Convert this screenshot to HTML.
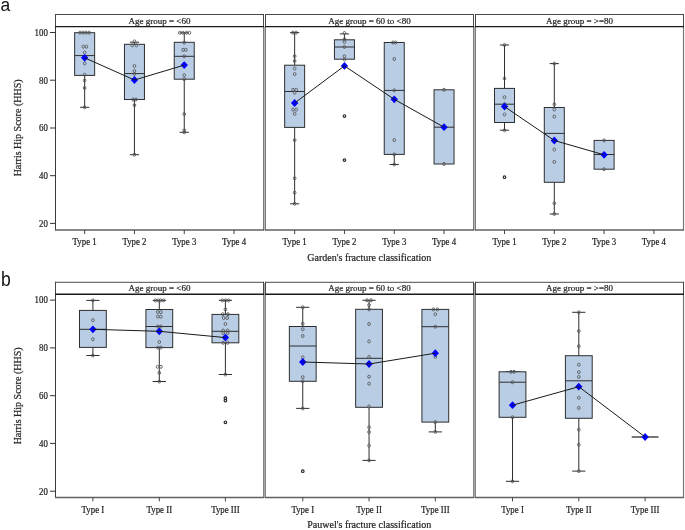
<!DOCTYPE html>
<html><head><meta charset="utf-8"><style>
html,body{margin:0;padding:0;background:#fff;width:685px;height:530px;overflow:hidden}
svg{display:block;will-change:transform}
text{font-family:"Liberation Serif",serif;stroke:#2a2a2a;stroke-width:0.22px}
</style></head><body>
<svg width="685" height="530" viewBox="0 0 685 530">
<rect width="685" height="530" fill="#fff"/>
<line x1="55" y1="14.5" x2="264" y2="14.5" stroke="#4a4a4a" stroke-width="1"/>
<line x1="55.5" y1="14" x2="55.5" y2="26.6" stroke="#484848" stroke-width="1"/>
<line x1="263.5" y1="14" x2="263.5" y2="26.6" stroke="#484848" stroke-width="1"/>
<line x1="55.5" y1="26.6" x2="55.5" y2="230.6" stroke="#3a3a3a" stroke-width="1"/>
<line x1="263.5" y1="26.6" x2="263.5" y2="230.6" stroke="#7a7a7a" stroke-width="1"/>
<line x1="264.5" y1="26.6" x2="264.5" y2="230.6" stroke="#b8b8b8" stroke-width="1"/>
<line x1="55" y1="230.0" x2="264" y2="230.0" stroke="#606060" stroke-width="1.5"/>
<line x1="55" y1="26.6" x2="264" y2="26.6" stroke="#1a1a1a" stroke-width="1.4"/>
<text x="159.5" y="23.6" text-anchor="middle" font-size="9" fill="#222">Age group = &lt;60</text>
<line x1="265" y1="14.5" x2="474" y2="14.5" stroke="#4a4a4a" stroke-width="1"/>
<line x1="265.5" y1="14" x2="265.5" y2="26.6" stroke="#484848" stroke-width="1"/>
<line x1="473.5" y1="14" x2="473.5" y2="26.6" stroke="#484848" stroke-width="1"/>
<line x1="265.5" y1="26.6" x2="265.5" y2="230.6" stroke="#7a7a7a" stroke-width="1"/>
<line x1="473.5" y1="26.6" x2="473.5" y2="230.6" stroke="#7a7a7a" stroke-width="1"/>
<line x1="474.5" y1="26.6" x2="474.5" y2="230.6" stroke="#b8b8b8" stroke-width="1"/>
<line x1="265" y1="230.0" x2="474" y2="230.0" stroke="#606060" stroke-width="1.5"/>
<line x1="265" y1="26.6" x2="474" y2="26.6" stroke="#1a1a1a" stroke-width="1.4"/>
<text x="369.5" y="23.6" text-anchor="middle" font-size="9" fill="#222">Age group = 60 to &lt;80</text>
<line x1="475" y1="14.5" x2="684" y2="14.5" stroke="#4a4a4a" stroke-width="1"/>
<line x1="475.5" y1="14" x2="475.5" y2="26.6" stroke="#484848" stroke-width="1"/>
<line x1="683.5" y1="14" x2="683.5" y2="26.6" stroke="#484848" stroke-width="1"/>
<line x1="475.5" y1="26.6" x2="475.5" y2="230.6" stroke="#7a7a7a" stroke-width="1"/>
<line x1="683.5" y1="26.6" x2="683.5" y2="230.6" stroke="#787878" stroke-width="1.2"/>
<line x1="475" y1="230.0" x2="684" y2="230.0" stroke="#606060" stroke-width="1.5"/>
<line x1="475" y1="26.6" x2="684" y2="26.6" stroke="#1a1a1a" stroke-width="1.4"/>
<text x="579.5" y="23.6" text-anchor="middle" font-size="9" fill="#222">Age group = &gt;=80</text>
<line x1="50" y1="32.5" x2="55" y2="32.5" stroke="#333" stroke-width="1"/>
<text transform="translate(47.8,35.8) scale(0.93,1)" text-anchor="end" font-size="9.5" fill="#222">100</text>
<line x1="50" y1="80.2" x2="55" y2="80.2" stroke="#333" stroke-width="1"/>
<text transform="translate(47.8,83.5) scale(0.93,1)" text-anchor="end" font-size="9.5" fill="#222">80</text>
<line x1="50" y1="128" x2="55" y2="128" stroke="#333" stroke-width="1"/>
<text transform="translate(47.8,131.3) scale(0.93,1)" text-anchor="end" font-size="9.5" fill="#222">60</text>
<line x1="50" y1="175.7" x2="55" y2="175.7" stroke="#333" stroke-width="1"/>
<text transform="translate(47.8,179.0) scale(0.93,1)" text-anchor="end" font-size="9.5" fill="#222">40</text>
<line x1="50" y1="223.4" x2="55" y2="223.4" stroke="#333" stroke-width="1"/>
<text transform="translate(47.8,226.70000000000002) scale(0.93,1)" text-anchor="end" font-size="9.5" fill="#222">20</text>
<line x1="84.65" y1="230.0" x2="84.65" y2="234.0" stroke="#444" stroke-width="1"/>
<text transform="translate(84.65,245.0) scale(0.92,1)" text-anchor="middle" font-size="9.6" fill="#222">Type 1</text>
<line x1="134.45" y1="230.0" x2="134.45" y2="234.0" stroke="#444" stroke-width="1"/>
<text transform="translate(134.45,245.0) scale(0.92,1)" text-anchor="middle" font-size="9.6" fill="#222">Type 2</text>
<line x1="184.25" y1="230.0" x2="184.25" y2="234.0" stroke="#444" stroke-width="1"/>
<text transform="translate(184.25,245.0) scale(0.92,1)" text-anchor="middle" font-size="9.6" fill="#222">Type 3</text>
<line x1="234.04999999999998" y1="230.0" x2="234.04999999999998" y2="234.0" stroke="#444" stroke-width="1"/>
<text transform="translate(234.04999999999998,245.0) scale(0.92,1)" text-anchor="middle" font-size="9.6" fill="#222">Type 4</text>
<line x1="294.65" y1="230.0" x2="294.65" y2="234.0" stroke="#444" stroke-width="1"/>
<text transform="translate(294.65,245.0) scale(0.92,1)" text-anchor="middle" font-size="9.6" fill="#222">Type 1</text>
<line x1="344.45" y1="230.0" x2="344.45" y2="234.0" stroke="#444" stroke-width="1"/>
<text transform="translate(344.45,245.0) scale(0.92,1)" text-anchor="middle" font-size="9.6" fill="#222">Type 2</text>
<line x1="394.25" y1="230.0" x2="394.25" y2="234.0" stroke="#444" stroke-width="1"/>
<text transform="translate(394.25,245.0) scale(0.92,1)" text-anchor="middle" font-size="9.6" fill="#222">Type 3</text>
<line x1="444.04999999999995" y1="230.0" x2="444.04999999999995" y2="234.0" stroke="#444" stroke-width="1"/>
<text transform="translate(444.04999999999995,245.0) scale(0.92,1)" text-anchor="middle" font-size="9.6" fill="#222">Type 4</text>
<line x1="504.5" y1="230.0" x2="504.5" y2="234.0" stroke="#444" stroke-width="1"/>
<text transform="translate(504.5,245.0) scale(0.92,1)" text-anchor="middle" font-size="9.6" fill="#222">Type 1</text>
<line x1="554.3" y1="230.0" x2="554.3" y2="234.0" stroke="#444" stroke-width="1"/>
<text transform="translate(554.3,245.0) scale(0.92,1)" text-anchor="middle" font-size="9.6" fill="#222">Type 2</text>
<line x1="604.1" y1="230.0" x2="604.1" y2="234.0" stroke="#444" stroke-width="1"/>
<text transform="translate(604.1,245.0) scale(0.92,1)" text-anchor="middle" font-size="9.6" fill="#222">Type 3</text>
<line x1="653.9" y1="230.0" x2="653.9" y2="234.0" stroke="#444" stroke-width="1"/>
<text transform="translate(653.9,245.0) scale(0.92,1)" text-anchor="middle" font-size="9.6" fill="#222">Type 4</text>
<line x1="84.65" y1="75.4" x2="84.65" y2="107.3" stroke="#2e2e2e" stroke-width="1"/>
<line x1="80.05000000000001" y1="107.3" x2="89.25" y2="107.3" stroke="#2e2e2e" stroke-width="1"/>
<rect x="74.65" y="32.7" width="20.0" height="42.7" fill="#b9cde5" stroke="#2e2e2e" stroke-width="1"/>
<line x1="74.65" y1="55.6" x2="94.65" y2="55.6" stroke="#2e2e2e" stroke-width="1"/>
<ellipse cx="80" cy="32.6" rx="1.35" ry="1.55" fill="none" stroke="#555555" stroke-width="0.85"/>
<ellipse cx="83" cy="32.6" rx="1.35" ry="1.55" fill="none" stroke="#555555" stroke-width="0.85"/>
<ellipse cx="86" cy="32.6" rx="1.35" ry="1.55" fill="none" stroke="#555555" stroke-width="0.85"/>
<ellipse cx="89.1" cy="32.6" rx="1.35" ry="1.55" fill="none" stroke="#555555" stroke-width="0.85"/>
<ellipse cx="83.3" cy="46.7" rx="1.35" ry="1.55" fill="none" stroke="#555555" stroke-width="0.85"/>
<ellipse cx="86.4" cy="46.7" rx="1.35" ry="1.55" fill="none" stroke="#555555" stroke-width="0.85"/>
<ellipse cx="84.65" cy="52.6" rx="1.35" ry="1.55" fill="none" stroke="#555555" stroke-width="0.85"/>
<ellipse cx="84.65" cy="63.5" rx="1.35" ry="1.55" fill="none" stroke="#555555" stroke-width="0.85"/>
<ellipse cx="84.65" cy="74.8" rx="1.35" ry="1.55" fill="none" stroke="#555555" stroke-width="0.85"/>
<ellipse cx="84.65" cy="80.5" rx="1.35" ry="1.55" fill="none" stroke="#555555" stroke-width="0.85"/>
<ellipse cx="84.65" cy="88" rx="1.35" ry="1.55" fill="none" stroke="#555555" stroke-width="0.85"/>
<ellipse cx="84.65" cy="107.3" rx="1.35" ry="1.55" fill="none" stroke="#555555" stroke-width="0.85"/>
<line x1="134.45" y1="42.2" x2="134.45" y2="44.3" stroke="#2e2e2e" stroke-width="1"/>
<line x1="129.85" y1="42.2" x2="139.04999999999998" y2="42.2" stroke="#2e2e2e" stroke-width="1"/>
<line x1="134.45" y1="99.5" x2="134.45" y2="154.7" stroke="#2e2e2e" stroke-width="1"/>
<line x1="129.85" y1="154.7" x2="139.04999999999998" y2="154.7" stroke="#2e2e2e" stroke-width="1"/>
<rect x="124.44999999999999" y="44.3" width="20.0" height="55.2" fill="#b9cde5" stroke="#2e2e2e" stroke-width="1"/>
<line x1="124.44999999999999" y1="73.6" x2="144.45" y2="73.6" stroke="#2e2e2e" stroke-width="1"/>
<ellipse cx="134.45" cy="41.4" rx="1.35" ry="1.55" fill="none" stroke="#555555" stroke-width="0.85"/>
<ellipse cx="132.3" cy="45.3" rx="1.35" ry="1.55" fill="none" stroke="#555555" stroke-width="0.85"/>
<ellipse cx="136.5" cy="45.3" rx="1.35" ry="1.55" fill="none" stroke="#555555" stroke-width="0.85"/>
<ellipse cx="134.45" cy="66" rx="1.35" ry="1.55" fill="none" stroke="#555555" stroke-width="0.85"/>
<ellipse cx="134.45" cy="71" rx="1.35" ry="1.55" fill="none" stroke="#555555" stroke-width="0.85"/>
<ellipse cx="134.45" cy="74" rx="1.35" ry="1.55" fill="none" stroke="#555555" stroke-width="0.85"/>
<ellipse cx="133" cy="99.5" rx="1.35" ry="1.55" fill="none" stroke="#555555" stroke-width="0.85"/>
<ellipse cx="136" cy="99.5" rx="1.35" ry="1.55" fill="none" stroke="#555555" stroke-width="0.85"/>
<ellipse cx="134.45" cy="105.2" rx="1.35" ry="1.55" fill="none" stroke="#555555" stroke-width="0.85"/>
<ellipse cx="134.45" cy="154.7" rx="1.35" ry="1.55" fill="none" stroke="#555555" stroke-width="0.85"/>
<line x1="184.25" y1="32.8" x2="184.25" y2="42.3" stroke="#2e2e2e" stroke-width="1"/>
<line x1="179.65" y1="32.8" x2="188.85" y2="32.8" stroke="#2e2e2e" stroke-width="1"/>
<line x1="184.25" y1="79.2" x2="184.25" y2="132.3" stroke="#2e2e2e" stroke-width="1"/>
<line x1="179.65" y1="132.3" x2="188.85" y2="132.3" stroke="#2e2e2e" stroke-width="1"/>
<rect x="174.25" y="42.3" width="20.0" height="36.900000000000006" fill="#b9cde5" stroke="#2e2e2e" stroke-width="1"/>
<line x1="174.25" y1="56.3" x2="194.25" y2="56.3" stroke="#2e2e2e" stroke-width="1"/>
<ellipse cx="179.8" cy="32.8" rx="1.35" ry="1.55" fill="none" stroke="#555555" stroke-width="0.85"/>
<ellipse cx="182.8" cy="32.8" rx="1.35" ry="1.55" fill="none" stroke="#555555" stroke-width="0.85"/>
<ellipse cx="186.4" cy="32.8" rx="1.35" ry="1.55" fill="none" stroke="#555555" stroke-width="0.85"/>
<ellipse cx="189.4" cy="32.8" rx="1.35" ry="1.55" fill="none" stroke="#555555" stroke-width="0.85"/>
<ellipse cx="184.25" cy="42.6" rx="1.35" ry="1.55" fill="none" stroke="#555555" stroke-width="0.85"/>
<ellipse cx="183.1" cy="49.9" rx="1.35" ry="1.55" fill="none" stroke="#555555" stroke-width="0.85"/>
<ellipse cx="185.8" cy="49.9" rx="1.35" ry="1.55" fill="none" stroke="#555555" stroke-width="0.85"/>
<ellipse cx="184.25" cy="56.3" rx="1.35" ry="1.55" fill="none" stroke="#555555" stroke-width="0.85"/>
<ellipse cx="184.25" cy="75.3" rx="1.35" ry="1.55" fill="none" stroke="#555555" stroke-width="0.85"/>
<ellipse cx="184.25" cy="79.2" rx="1.35" ry="1.55" fill="none" stroke="#555555" stroke-width="0.85"/>
<ellipse cx="184.25" cy="114" rx="1.35" ry="1.55" fill="none" stroke="#555555" stroke-width="0.85"/>
<ellipse cx="184.25" cy="130.4" rx="1.35" ry="1.55" fill="none" stroke="#555555" stroke-width="0.85"/>
<ellipse cx="184.25" cy="132.3" rx="1.35" ry="1.55" fill="none" stroke="#555555" stroke-width="0.85"/>
<path d="M84.65 53.89999999999999 L88.35000000000001 57.8 L84.65 61.7 L80.95 57.8 Z" fill="#0000ff"/>
<path d="M134.45 76.1 L138.14999999999998 80 L134.45 83.9 L130.75 80 Z" fill="#0000ff"/>
<path d="M184.25 61.19999999999999 L187.95 65.1 L184.25 69.0 L180.55 65.1 Z" fill="#0000ff"/>
<polyline points="84.65,57.8 134.45,80 184.25,65.1" fill="none" stroke="#1a1a1a" stroke-width="1"/>
<line x1="294.65" y1="32.6" x2="294.65" y2="65.2" stroke="#2e2e2e" stroke-width="1"/>
<line x1="290.04999999999995" y1="32.6" x2="299.25" y2="32.6" stroke="#2e2e2e" stroke-width="1"/>
<line x1="294.65" y1="127.4" x2="294.65" y2="203.8" stroke="#2e2e2e" stroke-width="1"/>
<line x1="290.04999999999995" y1="203.8" x2="299.25" y2="203.8" stroke="#2e2e2e" stroke-width="1"/>
<rect x="284.65" y="65.2" width="20.0" height="62.2" fill="#b9cde5" stroke="#2e2e2e" stroke-width="1"/>
<line x1="284.65" y1="91.5" x2="304.65" y2="91.5" stroke="#2e2e2e" stroke-width="1"/>
<ellipse cx="292.9" cy="32.6" rx="1.35" ry="1.55" fill="none" stroke="#555555" stroke-width="0.85"/>
<ellipse cx="296.1" cy="32.6" rx="1.35" ry="1.55" fill="none" stroke="#555555" stroke-width="0.85"/>
<ellipse cx="294.65" cy="56.2" rx="1.35" ry="1.55" fill="none" stroke="#555555" stroke-width="0.85"/>
<ellipse cx="294.65" cy="60.9" rx="1.35" ry="1.55" fill="none" stroke="#555555" stroke-width="0.85"/>
<ellipse cx="294.65" cy="68.5" rx="1.35" ry="1.55" fill="none" stroke="#555555" stroke-width="0.85"/>
<ellipse cx="294.65" cy="74.1" rx="1.35" ry="1.55" fill="none" stroke="#555555" stroke-width="0.85"/>
<ellipse cx="293" cy="89.8" rx="1.35" ry="1.55" fill="none" stroke="#555555" stroke-width="0.85"/>
<ellipse cx="296.2" cy="89.8" rx="1.35" ry="1.55" fill="none" stroke="#555555" stroke-width="0.85"/>
<ellipse cx="294.65" cy="92.7" rx="1.35" ry="1.55" fill="none" stroke="#555555" stroke-width="0.85"/>
<ellipse cx="293" cy="109.6" rx="1.35" ry="1.55" fill="none" stroke="#555555" stroke-width="0.85"/>
<ellipse cx="296.2" cy="109.6" rx="1.35" ry="1.55" fill="none" stroke="#555555" stroke-width="0.85"/>
<ellipse cx="294.65" cy="113.8" rx="1.35" ry="1.55" fill="none" stroke="#555555" stroke-width="0.85"/>
<ellipse cx="294.65" cy="140.2" rx="1.35" ry="1.55" fill="none" stroke="#555555" stroke-width="0.85"/>
<ellipse cx="294.65" cy="178.3" rx="1.35" ry="1.55" fill="none" stroke="#555555" stroke-width="0.85"/>
<ellipse cx="294.65" cy="192.6" rx="1.35" ry="1.55" fill="none" stroke="#555555" stroke-width="0.85"/>
<ellipse cx="294.65" cy="203.8" rx="1.35" ry="1.55" fill="none" stroke="#555555" stroke-width="0.85"/>
<line x1="344.45" y1="33.9" x2="344.45" y2="39.8" stroke="#2e2e2e" stroke-width="1"/>
<line x1="339.84999999999997" y1="33.9" x2="349.05" y2="33.9" stroke="#2e2e2e" stroke-width="1"/>
<rect x="334.45" y="39.8" width="20.0" height="19.400000000000006" fill="#b9cde5" stroke="#2e2e2e" stroke-width="1"/>
<line x1="334.45" y1="47" x2="354.45" y2="47" stroke="#2e2e2e" stroke-width="1"/>
<ellipse cx="344.45" cy="33.0" rx="1.35" ry="1.55" fill="none" stroke="#555555" stroke-width="0.85"/>
<ellipse cx="344.45" cy="39.2" rx="1.35" ry="1.55" fill="none" stroke="#555555" stroke-width="0.85"/>
<ellipse cx="344.45" cy="41.9" rx="1.35" ry="1.55" fill="none" stroke="#555555" stroke-width="0.85"/>
<ellipse cx="344.45" cy="47" rx="1.35" ry="1.55" fill="none" stroke="#555555" stroke-width="0.85"/>
<ellipse cx="344.45" cy="56.3" rx="1.35" ry="1.55" fill="none" stroke="#555555" stroke-width="0.85"/>
<ellipse cx="344.45" cy="59.4" rx="1.35" ry="1.55" fill="none" stroke="#555555" stroke-width="0.85"/>
<circle cx="344.45" cy="116.1" r="1.3" fill="none" stroke="#2a2a2a" stroke-width="1.15"/>
<circle cx="344.45" cy="160.1" r="1.3" fill="none" stroke="#2a2a2a" stroke-width="1.15"/>
<line x1="394.25" y1="154.4" x2="394.25" y2="164.5" stroke="#2e2e2e" stroke-width="1"/>
<line x1="389.65" y1="164.5" x2="398.85" y2="164.5" stroke="#2e2e2e" stroke-width="1"/>
<rect x="384.25" y="42.5" width="20.0" height="111.9" fill="#b9cde5" stroke="#2e2e2e" stroke-width="1"/>
<line x1="384.25" y1="90.4" x2="404.25" y2="90.4" stroke="#2e2e2e" stroke-width="1"/>
<ellipse cx="392.9" cy="42.5" rx="1.35" ry="1.55" fill="none" stroke="#555555" stroke-width="0.85"/>
<ellipse cx="395.6" cy="42.5" rx="1.35" ry="1.55" fill="none" stroke="#555555" stroke-width="0.85"/>
<ellipse cx="394.25" cy="59" rx="1.35" ry="1.55" fill="none" stroke="#555555" stroke-width="0.85"/>
<ellipse cx="394.25" cy="90.4" rx="1.35" ry="1.55" fill="none" stroke="#555555" stroke-width="0.85"/>
<ellipse cx="394.25" cy="140.1" rx="1.35" ry="1.55" fill="none" stroke="#555555" stroke-width="0.85"/>
<ellipse cx="394.25" cy="154.4" rx="1.35" ry="1.55" fill="none" stroke="#555555" stroke-width="0.85"/>
<ellipse cx="394.25" cy="164.5" rx="1.35" ry="1.55" fill="none" stroke="#555555" stroke-width="0.85"/>
<rect x="434.04999999999995" y="89.8" width="20.0" height="74.2" fill="#b9cde5" stroke="#2e2e2e" stroke-width="1"/>
<line x1="434.04999999999995" y1="127.2" x2="454.04999999999995" y2="127.2" stroke="#2e2e2e" stroke-width="1"/>
<ellipse cx="444.04999999999995" cy="89.8" rx="1.35" ry="1.55" fill="none" stroke="#555555" stroke-width="0.85"/>
<ellipse cx="444.04999999999995" cy="164" rx="1.35" ry="1.55" fill="none" stroke="#555555" stroke-width="0.85"/>
<path d="M294.65 99.1 L298.34999999999997 103 L294.65 106.9 L290.95 103 Z" fill="#0000ff"/>
<path d="M344.45 62.0 L348.15 65.9 L344.45 69.80000000000001 L340.75 65.9 Z" fill="#0000ff"/>
<path d="M394.25 95.39999999999999 L397.95 99.3 L394.25 103.2 L390.55 99.3 Z" fill="#0000ff"/>
<path d="M444.04999999999995 123.3 L447.74999999999994 127.2 L444.04999999999995 131.1 L440.34999999999997 127.2 Z" fill="#0000ff"/>
<polyline points="294.65,103 344.45,65.9 394.25,99.3 444.04999999999995,127.2" fill="none" stroke="#1a1a1a" stroke-width="1"/>
<line x1="504.5" y1="45" x2="504.5" y2="88.4" stroke="#2e2e2e" stroke-width="1"/>
<line x1="499.9" y1="45" x2="509.1" y2="45" stroke="#2e2e2e" stroke-width="1"/>
<line x1="504.5" y1="122.5" x2="504.5" y2="130.2" stroke="#2e2e2e" stroke-width="1"/>
<line x1="499.9" y1="130.2" x2="509.1" y2="130.2" stroke="#2e2e2e" stroke-width="1"/>
<rect x="494.5" y="88.4" width="20.0" height="34.099999999999994" fill="#b9cde5" stroke="#2e2e2e" stroke-width="1"/>
<line x1="494.5" y1="104.2" x2="514.5" y2="104.2" stroke="#2e2e2e" stroke-width="1"/>
<ellipse cx="504.5" cy="45" rx="1.35" ry="1.55" fill="none" stroke="#555555" stroke-width="0.85"/>
<ellipse cx="504.5" cy="78.5" rx="1.35" ry="1.55" fill="none" stroke="#555555" stroke-width="0.85"/>
<ellipse cx="504.5" cy="97.2" rx="1.35" ry="1.55" fill="none" stroke="#555555" stroke-width="0.85"/>
<ellipse cx="504.5" cy="104" rx="1.35" ry="1.55" fill="none" stroke="#555555" stroke-width="0.85"/>
<ellipse cx="504.5" cy="114.5" rx="1.35" ry="1.55" fill="none" stroke="#555555" stroke-width="0.85"/>
<ellipse cx="504.5" cy="130.2" rx="1.35" ry="1.55" fill="none" stroke="#555555" stroke-width="0.85"/>
<circle cx="504.5" cy="177.2" r="1.3" fill="none" stroke="#2a2a2a" stroke-width="1.15"/>
<line x1="554.3" y1="63.6" x2="554.3" y2="107.5" stroke="#2e2e2e" stroke-width="1"/>
<line x1="549.6999999999999" y1="63.6" x2="558.9" y2="63.6" stroke="#2e2e2e" stroke-width="1"/>
<line x1="554.3" y1="182.3" x2="554.3" y2="214" stroke="#2e2e2e" stroke-width="1"/>
<line x1="549.6999999999999" y1="214" x2="558.9" y2="214" stroke="#2e2e2e" stroke-width="1"/>
<rect x="544.3" y="107.5" width="20.0" height="74.80000000000001" fill="#b9cde5" stroke="#2e2e2e" stroke-width="1"/>
<line x1="544.3" y1="133.4" x2="564.3" y2="133.4" stroke="#2e2e2e" stroke-width="1"/>
<ellipse cx="554.3" cy="63.6" rx="1.35" ry="1.55" fill="none" stroke="#555555" stroke-width="0.85"/>
<ellipse cx="554.3" cy="104.4" rx="1.35" ry="1.55" fill="none" stroke="#555555" stroke-width="0.85"/>
<ellipse cx="554.3" cy="109.5" rx="1.35" ry="1.55" fill="none" stroke="#555555" stroke-width="0.85"/>
<ellipse cx="554.3" cy="116.6" rx="1.35" ry="1.55" fill="none" stroke="#555555" stroke-width="0.85"/>
<ellipse cx="554.3" cy="149.5" rx="1.35" ry="1.55" fill="none" stroke="#555555" stroke-width="0.85"/>
<ellipse cx="554.3" cy="161.9" rx="1.35" ry="1.55" fill="none" stroke="#555555" stroke-width="0.85"/>
<ellipse cx="554.3" cy="203.3" rx="1.35" ry="1.55" fill="none" stroke="#555555" stroke-width="0.85"/>
<ellipse cx="554.3" cy="214" rx="1.35" ry="1.55" fill="none" stroke="#555555" stroke-width="0.85"/>
<rect x="594.1" y="140.4" width="20.0" height="28.799999999999983" fill="#b9cde5" stroke="#2e2e2e" stroke-width="1"/>
<line x1="594.1" y1="154.5" x2="614.1" y2="154.5" stroke="#2e2e2e" stroke-width="1"/>
<ellipse cx="604.1" cy="140.4" rx="1.35" ry="1.55" fill="none" stroke="#555555" stroke-width="0.85"/>
<ellipse cx="604.1" cy="169.2" rx="1.35" ry="1.55" fill="none" stroke="#555555" stroke-width="0.85"/>
<path d="M504.5 102.69999999999999 L508.2 106.6 L504.5 110.5 L500.8 106.6 Z" fill="#0000ff"/>
<path d="M554.3 136.60000000000002 L558.0 140.5 L554.3 144.39999999999998 L550.5999999999999 140.5 Z" fill="#0000ff"/>
<path d="M604.1 150.90000000000003 L607.8000000000001 154.8 L604.1 158.7 L600.4 154.8 Z" fill="#0000ff"/>
<polyline points="504.5,106.6 554.3,140.5 604.1,154.8" fill="none" stroke="#1a1a1a" stroke-width="1"/>
<line x1="55" y1="282.3" x2="264" y2="282.3" stroke="#4a4a4a" stroke-width="1"/>
<line x1="55.5" y1="281.8" x2="55.5" y2="294.2" stroke="#484848" stroke-width="1"/>
<line x1="263.5" y1="281.8" x2="263.5" y2="294.2" stroke="#484848" stroke-width="1"/>
<line x1="55.5" y1="294.2" x2="55.5" y2="498.0" stroke="#3a3a3a" stroke-width="1"/>
<line x1="263.5" y1="294.2" x2="263.5" y2="498.0" stroke="#858585" stroke-width="1"/>
<line x1="264.5" y1="283" x2="264.5" y2="498.0" stroke="#a8a8a8" stroke-width="1"/>
<line x1="55" y1="497.4" x2="264" y2="497.4" stroke="#606060" stroke-width="1.5"/>
<line x1="55" y1="294.2" x2="264" y2="294.2" stroke="#1a1a1a" stroke-width="1.4"/>
<text x="159.5" y="291.40000000000003" text-anchor="middle" font-size="9" fill="#222">Age group = &lt;60</text>
<line x1="265" y1="282.3" x2="474" y2="282.3" stroke="#4a4a4a" stroke-width="1"/>
<line x1="265.5" y1="281.8" x2="265.5" y2="294.2" stroke="#484848" stroke-width="1"/>
<line x1="473.5" y1="281.8" x2="473.5" y2="294.2" stroke="#484848" stroke-width="1"/>
<line x1="265.5" y1="294.2" x2="265.5" y2="498.0" stroke="#858585" stroke-width="1"/>
<line x1="473.5" y1="294.2" x2="473.5" y2="498.0" stroke="#858585" stroke-width="1"/>
<line x1="474.5" y1="283" x2="474.5" y2="498.0" stroke="#a8a8a8" stroke-width="1"/>
<line x1="265" y1="497.4" x2="474" y2="497.4" stroke="#606060" stroke-width="1.5"/>
<line x1="265" y1="294.2" x2="474" y2="294.2" stroke="#1a1a1a" stroke-width="1.4"/>
<text x="369.5" y="291.40000000000003" text-anchor="middle" font-size="9" fill="#222">Age group = 60 to &lt;80</text>
<line x1="475" y1="282.3" x2="684" y2="282.3" stroke="#4a4a4a" stroke-width="1"/>
<line x1="475.5" y1="281.8" x2="475.5" y2="294.2" stroke="#484848" stroke-width="1"/>
<line x1="683.5" y1="281.8" x2="683.5" y2="294.2" stroke="#484848" stroke-width="1"/>
<line x1="475.5" y1="294.2" x2="475.5" y2="498.0" stroke="#858585" stroke-width="1"/>
<line x1="683.5" y1="294.2" x2="683.5" y2="498.0" stroke="#787878" stroke-width="1.2"/>
<line x1="475" y1="497.4" x2="684" y2="497.4" stroke="#606060" stroke-width="1.5"/>
<line x1="475" y1="294.2" x2="684" y2="294.2" stroke="#1a1a1a" stroke-width="1.4"/>
<text x="579.5" y="291.40000000000003" text-anchor="middle" font-size="9" fill="#222">Age group = &gt;=80</text>
<line x1="50" y1="300.1" x2="55" y2="300.1" stroke="#333" stroke-width="1"/>
<text transform="translate(47.8,303.40000000000003) scale(0.93,1)" text-anchor="end" font-size="9.5" fill="#222">100</text>
<line x1="50" y1="347.9" x2="55" y2="347.9" stroke="#333" stroke-width="1"/>
<text transform="translate(47.8,351.2) scale(0.93,1)" text-anchor="end" font-size="9.5" fill="#222">80</text>
<line x1="50" y1="395.7" x2="55" y2="395.7" stroke="#333" stroke-width="1"/>
<text transform="translate(47.8,399.0) scale(0.93,1)" text-anchor="end" font-size="9.5" fill="#222">60</text>
<line x1="50" y1="443.4" x2="55" y2="443.4" stroke="#333" stroke-width="1"/>
<text transform="translate(47.8,446.7) scale(0.93,1)" text-anchor="end" font-size="9.5" fill="#222">40</text>
<line x1="50" y1="491.2" x2="55" y2="491.2" stroke="#333" stroke-width="1"/>
<text transform="translate(47.8,494.5) scale(0.93,1)" text-anchor="end" font-size="9.5" fill="#222">20</text>
<line x1="92.9" y1="497.4" x2="92.9" y2="501.4" stroke="#444" stroke-width="1"/>
<text transform="translate(92.9,512.9) scale(0.92,1)" text-anchor="middle" font-size="9.6" fill="#222">Type I</text>
<line x1="159.3" y1="497.4" x2="159.3" y2="501.4" stroke="#444" stroke-width="1"/>
<text transform="translate(159.3,512.9) scale(0.92,1)" text-anchor="middle" font-size="9.6" fill="#222">Type II</text>
<line x1="225.4" y1="497.4" x2="225.4" y2="501.4" stroke="#444" stroke-width="1"/>
<text transform="translate(225.4,512.9) scale(0.92,1)" text-anchor="middle" font-size="9.6" fill="#222">Type III</text>
<line x1="302.75" y1="497.4" x2="302.75" y2="501.4" stroke="#444" stroke-width="1"/>
<text transform="translate(302.75,512.9) scale(0.92,1)" text-anchor="middle" font-size="9.6" fill="#222">Type I</text>
<line x1="369.05" y1="497.4" x2="369.05" y2="501.4" stroke="#444" stroke-width="1"/>
<text transform="translate(369.05,512.9) scale(0.92,1)" text-anchor="middle" font-size="9.6" fill="#222">Type II</text>
<line x1="435.3" y1="497.4" x2="435.3" y2="501.4" stroke="#444" stroke-width="1"/>
<text transform="translate(435.3,512.9) scale(0.92,1)" text-anchor="middle" font-size="9.6" fill="#222">Type III</text>
<line x1="512.5" y1="497.4" x2="512.5" y2="501.4" stroke="#444" stroke-width="1"/>
<text transform="translate(512.5,512.9) scale(0.92,1)" text-anchor="middle" font-size="9.6" fill="#222">Type I</text>
<line x1="578.8" y1="497.4" x2="578.8" y2="501.4" stroke="#444" stroke-width="1"/>
<text transform="translate(578.8,512.9) scale(0.92,1)" text-anchor="middle" font-size="9.6" fill="#222">Type II</text>
<line x1="645.1" y1="497.4" x2="645.1" y2="501.4" stroke="#444" stroke-width="1"/>
<text transform="translate(645.1,512.9) scale(0.92,1)" text-anchor="middle" font-size="9.6" fill="#222">Type III</text>
<line x1="92.9" y1="300.4" x2="92.9" y2="310.4" stroke="#2e2e2e" stroke-width="1"/>
<line x1="86.30000000000001" y1="300.4" x2="99.5" y2="300.4" stroke="#2e2e2e" stroke-width="1"/>
<line x1="92.9" y1="347.4" x2="92.9" y2="355.5" stroke="#2e2e2e" stroke-width="1"/>
<line x1="86.30000000000001" y1="355.5" x2="99.5" y2="355.5" stroke="#2e2e2e" stroke-width="1"/>
<rect x="79.5" y="310.4" width="26.8" height="37.0" fill="#b9cde5" stroke="#2e2e2e" stroke-width="1"/>
<line x1="79.5" y1="329.3" x2="106.30000000000001" y2="329.3" stroke="#2e2e2e" stroke-width="1"/>
<ellipse cx="92.9" cy="300.4" rx="1.35" ry="1.55" fill="none" stroke="#555555" stroke-width="0.85"/>
<ellipse cx="92.9" cy="320.2" rx="1.35" ry="1.55" fill="none" stroke="#555555" stroke-width="0.85"/>
<ellipse cx="92.9" cy="339.2" rx="1.35" ry="1.55" fill="none" stroke="#555555" stroke-width="0.85"/>
<ellipse cx="92.9" cy="355.5" rx="1.35" ry="1.55" fill="none" stroke="#555555" stroke-width="0.85"/>
<line x1="159.3" y1="300.4" x2="159.3" y2="309.5" stroke="#2e2e2e" stroke-width="1"/>
<line x1="152.70000000000002" y1="300.4" x2="165.9" y2="300.4" stroke="#2e2e2e" stroke-width="1"/>
<line x1="159.3" y1="347.6" x2="159.3" y2="381.5" stroke="#2e2e2e" stroke-width="1"/>
<line x1="152.70000000000002" y1="381.5" x2="165.9" y2="381.5" stroke="#2e2e2e" stroke-width="1"/>
<rect x="145.9" y="309.5" width="26.8" height="38.10000000000002" fill="#b9cde5" stroke="#2e2e2e" stroke-width="1"/>
<line x1="145.9" y1="326.5" x2="172.70000000000002" y2="326.5" stroke="#2e2e2e" stroke-width="1"/>
<ellipse cx="155.4" cy="300.4" rx="1.35" ry="1.55" fill="none" stroke="#555555" stroke-width="0.85"/>
<ellipse cx="158.3" cy="300.4" rx="1.35" ry="1.55" fill="none" stroke="#555555" stroke-width="0.85"/>
<ellipse cx="160.7" cy="300.4" rx="1.35" ry="1.55" fill="none" stroke="#555555" stroke-width="0.85"/>
<ellipse cx="163.6" cy="300.4" rx="1.35" ry="1.55" fill="none" stroke="#555555" stroke-width="0.85"/>
<ellipse cx="157.8" cy="312.1" rx="1.35" ry="1.55" fill="none" stroke="#555555" stroke-width="0.85"/>
<ellipse cx="160.8" cy="312.1" rx="1.35" ry="1.55" fill="none" stroke="#555555" stroke-width="0.85"/>
<ellipse cx="157.8" cy="316.6" rx="1.35" ry="1.55" fill="none" stroke="#555555" stroke-width="0.85"/>
<ellipse cx="160.8" cy="316.6" rx="1.35" ry="1.55" fill="none" stroke="#555555" stroke-width="0.85"/>
<ellipse cx="157.8" cy="326.5" rx="1.35" ry="1.55" fill="none" stroke="#555555" stroke-width="0.85"/>
<ellipse cx="160.8" cy="326.5" rx="1.35" ry="1.55" fill="none" stroke="#555555" stroke-width="0.85"/>
<ellipse cx="159.3" cy="342" rx="1.35" ry="1.55" fill="none" stroke="#555555" stroke-width="0.85"/>
<ellipse cx="157.8" cy="347.6" rx="1.35" ry="1.55" fill="none" stroke="#555555" stroke-width="0.85"/>
<ellipse cx="160.8" cy="347.6" rx="1.35" ry="1.55" fill="none" stroke="#555555" stroke-width="0.85"/>
<ellipse cx="157.6" cy="366.8" rx="1.35" ry="1.55" fill="none" stroke="#555555" stroke-width="0.85"/>
<ellipse cx="161" cy="366.8" rx="1.35" ry="1.55" fill="none" stroke="#555555" stroke-width="0.85"/>
<ellipse cx="159.3" cy="372.8" rx="1.35" ry="1.55" fill="none" stroke="#555555" stroke-width="0.85"/>
<ellipse cx="159.3" cy="381.5" rx="1.35" ry="1.55" fill="none" stroke="#555555" stroke-width="0.85"/>
<line x1="225.4" y1="300.3" x2="225.4" y2="314.4" stroke="#2e2e2e" stroke-width="1"/>
<line x1="218.8" y1="300.3" x2="232.0" y2="300.3" stroke="#2e2e2e" stroke-width="1"/>
<line x1="225.4" y1="342.8" x2="225.4" y2="374.5" stroke="#2e2e2e" stroke-width="1"/>
<line x1="218.8" y1="374.5" x2="232.0" y2="374.5" stroke="#2e2e2e" stroke-width="1"/>
<rect x="212.0" y="314.4" width="26.8" height="28.400000000000034" fill="#b9cde5" stroke="#2e2e2e" stroke-width="1"/>
<line x1="212.0" y1="331.3" x2="238.8" y2="331.3" stroke="#2e2e2e" stroke-width="1"/>
<ellipse cx="222.4" cy="300.4" rx="1.35" ry="1.55" fill="none" stroke="#555555" stroke-width="0.85"/>
<ellipse cx="225.6" cy="300.4" rx="1.35" ry="1.55" fill="none" stroke="#555555" stroke-width="0.85"/>
<ellipse cx="228.6" cy="300.4" rx="1.35" ry="1.55" fill="none" stroke="#555555" stroke-width="0.85"/>
<ellipse cx="225.4" cy="309.4" rx="1.35" ry="1.55" fill="none" stroke="#555555" stroke-width="0.85"/>
<ellipse cx="222.7" cy="314.2" rx="1.35" ry="1.55" fill="none" stroke="#555555" stroke-width="0.85"/>
<ellipse cx="228" cy="314.2" rx="1.35" ry="1.55" fill="none" stroke="#555555" stroke-width="0.85"/>
<ellipse cx="223.6" cy="318" rx="1.35" ry="1.55" fill="none" stroke="#555555" stroke-width="0.85"/>
<ellipse cx="227.2" cy="318" rx="1.35" ry="1.55" fill="none" stroke="#555555" stroke-width="0.85"/>
<ellipse cx="225.4" cy="324" rx="1.35" ry="1.55" fill="none" stroke="#555555" stroke-width="0.85"/>
<ellipse cx="223.2" cy="330.5" rx="1.35" ry="1.55" fill="none" stroke="#555555" stroke-width="0.85"/>
<ellipse cx="227.6" cy="330.5" rx="1.35" ry="1.55" fill="none" stroke="#555555" stroke-width="0.85"/>
<ellipse cx="223.2" cy="333" rx="1.35" ry="1.55" fill="none" stroke="#555555" stroke-width="0.85"/>
<ellipse cx="227.6" cy="333" rx="1.35" ry="1.55" fill="none" stroke="#555555" stroke-width="0.85"/>
<ellipse cx="223.2" cy="342.8" rx="1.35" ry="1.55" fill="none" stroke="#555555" stroke-width="0.85"/>
<ellipse cx="227.6" cy="342.8" rx="1.35" ry="1.55" fill="none" stroke="#555555" stroke-width="0.85"/>
<ellipse cx="225.4" cy="374.5" rx="1.35" ry="1.55" fill="none" stroke="#555555" stroke-width="0.85"/>
<circle cx="225.4" cy="398.2" r="1.3" fill="none" stroke="#2a2a2a" stroke-width="1.15"/>
<circle cx="225.4" cy="400.6" r="1.3" fill="none" stroke="#2a2a2a" stroke-width="1.15"/>
<circle cx="225.4" cy="422.3" r="1.3" fill="none" stroke="#2a2a2a" stroke-width="1.15"/>
<path d="M92.9 325.40000000000003 L96.60000000000001 329.3 L92.9 333.2 L89.2 329.3 Z" fill="#0000ff"/>
<path d="M159.3 327.40000000000003 L163.0 331.3 L159.3 335.2 L155.60000000000002 331.3 Z" fill="#0000ff"/>
<path d="M225.4 333.70000000000005 L229.1 337.6 L225.4 341.5 L221.70000000000002 337.6 Z" fill="#0000ff"/>
<polyline points="92.9,329.3 159.3,331.3 225.4,337.6" fill="none" stroke="#1a1a1a" stroke-width="1"/>
<line x1="302.75" y1="307.3" x2="302.75" y2="326.5" stroke="#2e2e2e" stroke-width="1"/>
<line x1="296.15" y1="307.3" x2="309.35" y2="307.3" stroke="#2e2e2e" stroke-width="1"/>
<line x1="302.75" y1="381.3" x2="302.75" y2="408.4" stroke="#2e2e2e" stroke-width="1"/>
<line x1="296.15" y1="408.4" x2="309.35" y2="408.4" stroke="#2e2e2e" stroke-width="1"/>
<rect x="289.35" y="326.5" width="26.8" height="54.80000000000001" fill="#b9cde5" stroke="#2e2e2e" stroke-width="1"/>
<line x1="289.35" y1="346" x2="316.15" y2="346" stroke="#2e2e2e" stroke-width="1"/>
<ellipse cx="302.75" cy="307.3" rx="1.35" ry="1.55" fill="none" stroke="#555555" stroke-width="0.85"/>
<ellipse cx="302.75" cy="323.7" rx="1.35" ry="1.55" fill="none" stroke="#555555" stroke-width="0.85"/>
<ellipse cx="302.75" cy="329.3" rx="1.35" ry="1.55" fill="none" stroke="#555555" stroke-width="0.85"/>
<ellipse cx="302.75" cy="336" rx="1.35" ry="1.55" fill="none" stroke="#555555" stroke-width="0.85"/>
<ellipse cx="302.75" cy="357.3" rx="1.35" ry="1.55" fill="none" stroke="#555555" stroke-width="0.85"/>
<ellipse cx="302.75" cy="377.2" rx="1.35" ry="1.55" fill="none" stroke="#555555" stroke-width="0.85"/>
<ellipse cx="302.75" cy="381.3" rx="1.35" ry="1.55" fill="none" stroke="#555555" stroke-width="0.85"/>
<ellipse cx="302.75" cy="408.4" rx="1.35" ry="1.55" fill="none" stroke="#555555" stroke-width="0.85"/>
<circle cx="302.75" cy="471.2" r="1.3" fill="none" stroke="#2a2a2a" stroke-width="1.15"/>
<line x1="369.05" y1="300.3" x2="369.05" y2="309.3" stroke="#2e2e2e" stroke-width="1"/>
<line x1="362.45" y1="300.3" x2="375.65000000000003" y2="300.3" stroke="#2e2e2e" stroke-width="1"/>
<line x1="369.05" y1="407.3" x2="369.05" y2="460.4" stroke="#2e2e2e" stroke-width="1"/>
<line x1="362.45" y1="460.4" x2="375.65000000000003" y2="460.4" stroke="#2e2e2e" stroke-width="1"/>
<rect x="355.65000000000003" y="309.3" width="26.8" height="98.0" fill="#b9cde5" stroke="#2e2e2e" stroke-width="1"/>
<line x1="355.65000000000003" y1="358.3" x2="382.45" y2="358.3" stroke="#2e2e2e" stroke-width="1"/>
<ellipse cx="367" cy="300.3" rx="1.35" ry="1.55" fill="none" stroke="#555555" stroke-width="0.85"/>
<ellipse cx="371" cy="300.3" rx="1.35" ry="1.55" fill="none" stroke="#555555" stroke-width="0.85"/>
<ellipse cx="369.05" cy="305.1" rx="1.35" ry="1.55" fill="none" stroke="#555555" stroke-width="0.85"/>
<ellipse cx="369.05" cy="309.3" rx="1.35" ry="1.55" fill="none" stroke="#555555" stroke-width="0.85"/>
<ellipse cx="369.05" cy="324" rx="1.35" ry="1.55" fill="none" stroke="#555555" stroke-width="0.85"/>
<ellipse cx="369.05" cy="341.4" rx="1.35" ry="1.55" fill="none" stroke="#555555" stroke-width="0.85"/>
<ellipse cx="369.05" cy="357" rx="1.35" ry="1.55" fill="none" stroke="#555555" stroke-width="0.85"/>
<ellipse cx="369.05" cy="376.7" rx="1.35" ry="1.55" fill="none" stroke="#555555" stroke-width="0.85"/>
<ellipse cx="369.05" cy="383.7" rx="1.35" ry="1.55" fill="none" stroke="#555555" stroke-width="0.85"/>
<ellipse cx="369.05" cy="406.5" rx="1.35" ry="1.55" fill="none" stroke="#555555" stroke-width="0.85"/>
<ellipse cx="369.05" cy="427.3" rx="1.35" ry="1.55" fill="none" stroke="#555555" stroke-width="0.85"/>
<ellipse cx="369.05" cy="432" rx="1.35" ry="1.55" fill="none" stroke="#555555" stroke-width="0.85"/>
<ellipse cx="369.05" cy="445.6" rx="1.35" ry="1.55" fill="none" stroke="#555555" stroke-width="0.85"/>
<ellipse cx="369.05" cy="460.4" rx="1.35" ry="1.55" fill="none" stroke="#555555" stroke-width="0.85"/>
<line x1="435.3" y1="422.1" x2="435.3" y2="431.9" stroke="#2e2e2e" stroke-width="1"/>
<line x1="428.7" y1="431.9" x2="441.90000000000003" y2="431.9" stroke="#2e2e2e" stroke-width="1"/>
<rect x="421.90000000000003" y="309.4" width="26.8" height="112.70000000000005" fill="#b9cde5" stroke="#2e2e2e" stroke-width="1"/>
<line x1="421.90000000000003" y1="326.7" x2="448.7" y2="326.7" stroke="#2e2e2e" stroke-width="1"/>
<ellipse cx="433.4" cy="309.4" rx="1.35" ry="1.55" fill="none" stroke="#555555" stroke-width="0.85"/>
<ellipse cx="437.4" cy="309.4" rx="1.35" ry="1.55" fill="none" stroke="#555555" stroke-width="0.85"/>
<ellipse cx="435.3" cy="314.3" rx="1.35" ry="1.55" fill="none" stroke="#555555" stroke-width="0.85"/>
<ellipse cx="435.3" cy="326.7" rx="1.35" ry="1.55" fill="none" stroke="#555555" stroke-width="0.85"/>
<ellipse cx="435.3" cy="356.9" rx="1.35" ry="1.55" fill="none" stroke="#555555" stroke-width="0.85"/>
<ellipse cx="435.3" cy="422.1" rx="1.35" ry="1.55" fill="none" stroke="#555555" stroke-width="0.85"/>
<ellipse cx="435.3" cy="431.9" rx="1.35" ry="1.55" fill="none" stroke="#555555" stroke-width="0.85"/>
<path d="M302.75 358.1 L306.45 362 L302.75 365.9 L299.05 362 Z" fill="#0000ff"/>
<path d="M369.05 360.1 L372.75 364 L369.05 367.9 L365.35 364 Z" fill="#0000ff"/>
<path d="M435.3 349.3 L439.0 353.2 L435.3 357.09999999999997 L431.6 353.2 Z" fill="#0000ff"/>
<polyline points="302.75,362 369.05,364 435.3,353.2" fill="none" stroke="#1a1a1a" stroke-width="1"/>
<line x1="512.5" y1="371.8" x2="512.5" y2="371.8" stroke="#2e2e2e" stroke-width="1"/>
<line x1="505.9" y1="371.8" x2="519.1" y2="371.8" stroke="#2e2e2e" stroke-width="1"/>
<line x1="512.5" y1="417.3" x2="512.5" y2="481.3" stroke="#2e2e2e" stroke-width="1"/>
<line x1="505.9" y1="481.3" x2="519.1" y2="481.3" stroke="#2e2e2e" stroke-width="1"/>
<rect x="499.1" y="371.8" width="26.8" height="45.5" fill="#b9cde5" stroke="#2e2e2e" stroke-width="1"/>
<line x1="499.1" y1="382.2" x2="525.9" y2="382.2" stroke="#2e2e2e" stroke-width="1"/>
<ellipse cx="511" cy="371.8" rx="1.35" ry="1.55" fill="none" stroke="#555555" stroke-width="0.85"/>
<ellipse cx="514" cy="371.8" rx="1.35" ry="1.55" fill="none" stroke="#555555" stroke-width="0.85"/>
<ellipse cx="512.5" cy="382.2" rx="1.35" ry="1.55" fill="none" stroke="#555555" stroke-width="0.85"/>
<ellipse cx="512.5" cy="417.3" rx="1.35" ry="1.55" fill="none" stroke="#555555" stroke-width="0.85"/>
<ellipse cx="512.5" cy="481.3" rx="1.35" ry="1.55" fill="none" stroke="#555555" stroke-width="0.85"/>
<line x1="578.8" y1="312.3" x2="578.8" y2="355.7" stroke="#2e2e2e" stroke-width="1"/>
<line x1="572.1999999999999" y1="312.3" x2="585.4" y2="312.3" stroke="#2e2e2e" stroke-width="1"/>
<line x1="578.8" y1="418.3" x2="578.8" y2="471.1" stroke="#2e2e2e" stroke-width="1"/>
<line x1="572.1999999999999" y1="471.1" x2="585.4" y2="471.1" stroke="#2e2e2e" stroke-width="1"/>
<rect x="565.4" y="355.7" width="26.8" height="62.60000000000002" fill="#b9cde5" stroke="#2e2e2e" stroke-width="1"/>
<line x1="565.4" y1="380.8" x2="592.1999999999999" y2="380.8" stroke="#2e2e2e" stroke-width="1"/>
<ellipse cx="578.8" cy="312.3" rx="1.35" ry="1.55" fill="none" stroke="#555555" stroke-width="0.85"/>
<ellipse cx="578.8" cy="331.1" rx="1.35" ry="1.55" fill="none" stroke="#555555" stroke-width="0.85"/>
<ellipse cx="578.8" cy="346.2" rx="1.35" ry="1.55" fill="none" stroke="#555555" stroke-width="0.85"/>
<ellipse cx="578.8" cy="364.7" rx="1.35" ry="1.55" fill="none" stroke="#555555" stroke-width="0.85"/>
<ellipse cx="578.8" cy="372.1" rx="1.35" ry="1.55" fill="none" stroke="#555555" stroke-width="0.85"/>
<ellipse cx="578.8" cy="377" rx="1.35" ry="1.55" fill="none" stroke="#555555" stroke-width="0.85"/>
<ellipse cx="578.8" cy="397.8" rx="1.35" ry="1.55" fill="none" stroke="#555555" stroke-width="0.85"/>
<ellipse cx="578.8" cy="407.9" rx="1.35" ry="1.55" fill="none" stroke="#555555" stroke-width="0.85"/>
<ellipse cx="578.8" cy="429.6" rx="1.35" ry="1.55" fill="none" stroke="#555555" stroke-width="0.85"/>
<ellipse cx="578.8" cy="444.7" rx="1.35" ry="1.55" fill="none" stroke="#555555" stroke-width="0.85"/>
<ellipse cx="578.8" cy="471.1" rx="1.35" ry="1.55" fill="none" stroke="#555555" stroke-width="0.85"/>
<line x1="631.7" y1="437" x2="658.5" y2="437" stroke="#555" stroke-width="1.6"/>
<path d="M512.5 401.3 L516.2 405.2 L512.5 409.09999999999997 L508.8 405.2 Z" fill="#0000ff"/>
<path d="M578.8 382.8 L582.5 386.7 L578.8 390.59999999999997 L575.0999999999999 386.7 Z" fill="#0000ff"/>
<path d="M645.1 433.1 L648.8000000000001 437 L645.1 440.9 L641.4 437 Z" fill="#0000ff"/>
<polyline points="512.5,405.2 578.8,386.7 645.1,437" fill="none" stroke="#1a1a1a" stroke-width="1"/>
<text x="369.3" y="260.5" text-anchor="middle" font-size="10" fill="#222">Garden's fracture classification</text>
<text x="369.3" y="527.7" text-anchor="middle" font-size="10" fill="#222">Pauwel's fracture classification</text>
<text transform="translate(21.4,127.9) rotate(-90)" text-anchor="middle" font-size="10" fill="#222">Harris Hip Score (HHS)</text>
<text transform="translate(21.4,395.9) rotate(-90)" text-anchor="middle" font-size="10" fill="#222">Harris Hip Score (HHS)</text>
<text transform="translate(0.6,11) scale(0.92,1)" style="font-family:'Liberation Sans',sans-serif;stroke:none" font-size="19" fill="#111">a</text>
<text transform="translate(0.9,285.6) scale(0.9,1)" style="font-family:'Liberation Sans',sans-serif;stroke:none" font-size="19.5" fill="#111">b</text>
</svg>
</body></html>
